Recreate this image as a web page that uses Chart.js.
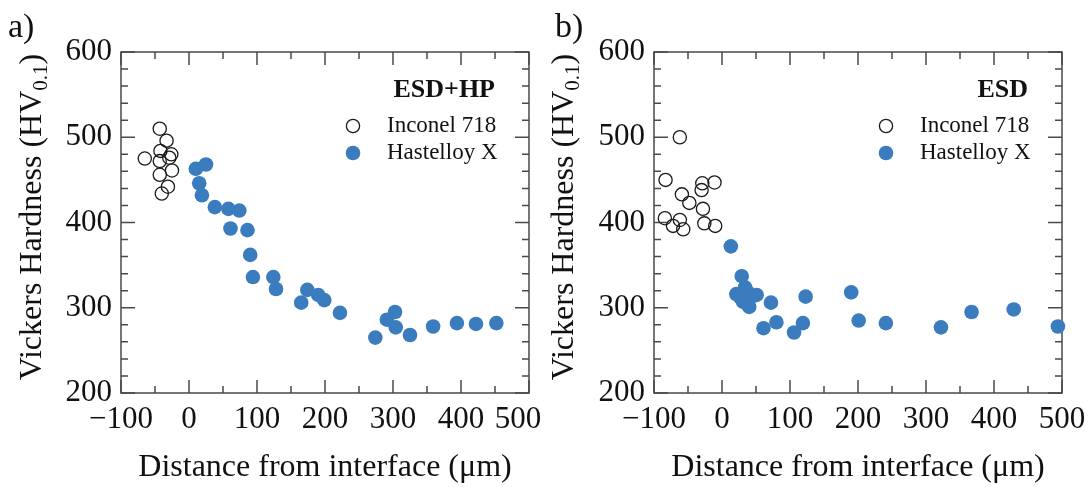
<!DOCTYPE html>
<html><head><meta charset="utf-8">
<script src="https://cdn.jsdelivr.net/npm/chart.js@4"></script>
<style>
html,body{margin:0;padding:0;background:#fff;}
#wrap{position:relative;width:1091px;height:487px;overflow:hidden;background:#fff;}
canvas{position:absolute;top:0;}
</style></head><body>
<div id="wrap">
<canvas id="ca" width="545" height="487" style="left:0"></canvas>
<canvas id="cb" width="546" height="487" style="left:545px"></canvas>
</div>
<script>
// ---- tick labels / names ----
const xTickValues = [-100, 0, 100, 200, 300, 400, 500];
const yTickValues = [200, 300, 400, 500, 600];
const seriesNames = ['Inconel 718', 'Hastelloy X'];
const panelTitles = ['ESD+HP', 'ESD'];
const panelLetters = ['a)', 'b)'];
const xAxisTitle = 'Distance from interface (\u03bcm)';
const yAxisTitleMain = 'Vickers Hardness (HV';
const yAxisTitleSub = '0.1';

// ---- panel a (ESD+HP) ----
const aInconelX = [-65, -43, -33, -42, -26, -29, -43, -25, -43, -31, -40];
const aInconelY = [475, 510, 496, 484, 480, 476, 472, 461, 456, 442, 434];
const aHastX = [10, 25, 15, 19, 38, 58, 74, 61, 86, 90, 94, 124, 128, 165, 174, 190, 199, 222, 274, 291, 303, 304, 325, 359, 394, 422, 452];
const aHastY = [463, 468, 446, 432, 418, 416, 414, 393, 391, 362, 336, 336, 322, 306, 321, 315, 309, 294, 265, 286, 295, 277, 268, 278, 282, 281, 282];

// ---- panel b (ESD) ----
const bInconelX = [-62, -83, -59, -48, -30, -29, -11, -28, -84, -62, -72, -57, -26, -10];
const bInconelY = [500, 450, 433, 423, 438, 446, 447, 416, 405, 403, 396, 392, 399, 396];
const bHastX = [13, 29, 21, 34, 38, 51, 31, 40, 27, 44, 72, 80, 61, 106, 119, 123, 190, 201, 241, 322, 367, 429, 494];
const bHastY = [372, 337, 316, 324, 318, 315, 307, 301, 312, 313, 306, 283, 276, 271, 282, 313, 318, 285, 282, 277, 295, 298, 278];

const SERIF = "'Liberation Serif', 'DejaVu Serif', serif";
const BLUE = '#3a7cbd';
const AXIS = '#4a4a4a';
const TEXT = '#111111';

function pts(xs, ys) { return xs.map((x, i) => ({x: x, y: ys[i]})); }

const framePlugin = {
  id: 'frame',
  beforeDatasetsDraw(chart, args, opts) {
    const ctx = chart.ctx;
    const {left, right, top, bottom} = chart.chartArea;
    const x = chart.scales.x, y = chart.scales.y;
    ctx.save();
    ctx.strokeStyle = AXIS;
    ctx.lineWidth = 1.5;
    ctx.strokeRect(left, top, right - left, bottom - top);
    ctx.beginPath();
    for (let v = x.min; v <= x.max; v += 50) {
      const p = x.getPixelForValue(v);
      const L = (v % 100 === 0) ? 13 : 7;
      ctx.moveTo(p, bottom); ctx.lineTo(p, bottom - L);
      ctx.moveTo(p, top); ctx.lineTo(p, top + L);
    }
    for (let v = y.min; v <= y.max; v += 20) {
      const p = y.getPixelForValue(v);
      const L = (v % 100 === 0) ? 14 : 7;
      ctx.moveTo(left, p); ctx.lineTo(left + L, p);
      ctx.moveTo(right, p); ctx.lineTo(right - L, p);
    }
    ctx.stroke();
    ctx.restore();
  },
  afterDraw(chart, args, opts) {
    const ctx = chart.ctx;
    const {left, right, top, bottom} = chart.chartArea;
    const x = chart.scales.x;
    ctx.save();
    ctx.fillStyle = TEXT;
    // shifted last x label
    if (opts.shiftLast) {
      ctx.font = '31px ' + SERIF;
      ctx.textAlign = 'center';
      ctx.textBaseline = 'middle';
      const v = xTickValues[xTickValues.length - 1];
      ctx.fillText(String(v), x.getPixelForValue(v) - opts.shiftLast, bottom + 8 + 18.6);
    }
    // panel letter
    ctx.font = '34px ' + SERIF;
    ctx.textAlign = 'left';
    ctx.textBaseline = 'alphabetic';
    ctx.fillText(opts.letter, opts.letterX, 37);
    // legend title
    ctx.font = 'bold 26px ' + SERIF;
    ctx.textAlign = 'right';
    ctx.textBaseline = 'middle';
    ctx.fillText(opts.title, right - 34, top + 38);
    // legend entries
    const mx = right - 176;
    ctx.beginPath();
    ctx.arc(mx, top + 74, 6.6, 0, Math.PI * 2);
    ctx.strokeStyle = '#1a1a1a'; ctx.lineWidth = 1.3; ctx.stroke();
    ctx.beginPath();
    ctx.arc(mx, top + 101, 7.3, 0, Math.PI * 2);
    ctx.fillStyle = BLUE; ctx.fill();
    ctx.fillStyle = TEXT;
    ctx.font = '23px ' + SERIF;
    ctx.textAlign = 'left';
    ctx.fillText(seriesNames[0], right - 142, top + 74);
    ctx.fillText(seriesNames[1], right - 142, top + 101);
    // y axis title with subscript
    ctx.translate(opts.yTitleX, 217);
    ctx.rotate(-Math.PI / 2);
    ctx.textBaseline = 'alphabetic';
    ctx.font = '32px ' + SERIF;
    const w1 = ctx.measureText(yAxisTitleMain).width;
    const w3 = ctx.measureText(')').width;
    ctx.font = '21px ' + SERIF;
    const w2 = ctx.measureText(yAxisTitleSub).width;
    let sx = -(w1 + w2 + w3) / 2;
    const base = 11;
    ctx.font = '32px ' + SERIF;
    ctx.fillText(yAxisTitleMain, sx, base);
    sx += w1;
    ctx.font = '21px ' + SERIF;
    ctx.fillText(yAxisTitleSub, sx, base + 6);
    sx += w2;
    ctx.font = '32px ' + SERIF;
    ctx.fillText(')', sx, base);
    ctx.restore();
  }
};

function makePanel(id, idx, incX, incY, hasX, hasY, yAxisWidth, padRight, cfg) {
  const lastV = xTickValues[xTickValues.length - 1];
  return new Chart(document.getElementById(id), {
    type: 'scatter',
    data: {
      datasets: [
        {label: seriesNames[1], data: pts(hasX, hasY), pointRadius: 7.3, pointHoverRadius: 7.3,
         backgroundColor: BLUE, borderColor: BLUE, borderWidth: 0, clip: false},
        {label: seriesNames[0], data: pts(incX, incY), pointRadius: 6.6, pointHoverRadius: 6.6,
         backgroundColor: 'rgba(0,0,0,0)', borderColor: '#1a1a1a', borderWidth: 1.3, clip: false}
      ]
    },
    options: {
      responsive: false, animation: false, events: [],
      layout: {padding: {top: 52, right: padRight, left: 0, bottom: 0}},
      plugins: {legend: {display: false}, tooltip: {enabled: false}, frame: cfg},
      scales: {
        x: {
          type: 'linear', min: -100, max: 500,
          afterBuildTicks: s => { s.ticks = xTickValues.map(v => ({value: v})); },
          afterFit: s => { s.height = 94; s.paddingLeft = 0; s.paddingRight = 0; },
          grid: {display: false, drawTicks: false},
          border: {display: false},
          ticks: {padding: 8, color: TEXT, font: {family: SERIF, size: 31}, maxRotation: 0, autoSkip: false,
            callback: v => (cfg.shiftLast && v === lastV) ? '' : (v < 0 ? '\u2212' + (-v) : String(v))},
          title: {display: true, text: xAxisTitle, color: TEXT, font: {family: SERIF, size: 32, lineHeight: 1.2}, padding: 0}
        },
        y: {
          type: 'linear', min: 200, max: 600,
          afterBuildTicks: s => { s.ticks = yTickValues.map(v => ({value: v})); },
          afterFit: s => { s.width = yAxisWidth; s.paddingTop = 0; s.paddingBottom = 0; },
          grid: {display: false, drawTicks: false},
          border: {display: false},
          ticks: {padding: 9, color: TEXT, font: {family: SERIF, size: 31}, autoSkip: false,
            callback: v => String(v)}
        }
      }
    },
    plugins: [framePlugin]
  });
}

makePanel('ca', 0, aInconelX, aInconelY, aHastX, aHastY, 121, 16,
  {letter: panelLetters[0], letterX: 8, title: panelTitles[0], yTitleX: 30, shiftLast: 11});
makePanel('cb', 1, bInconelX, bInconelY, bHastX, bHastY, 109, 29,
  {letter: panelLetters[1], letterX: 10, title: panelTitles[1], yTitleX: 17, shiftLast: 0});
</script>
</body></html>
